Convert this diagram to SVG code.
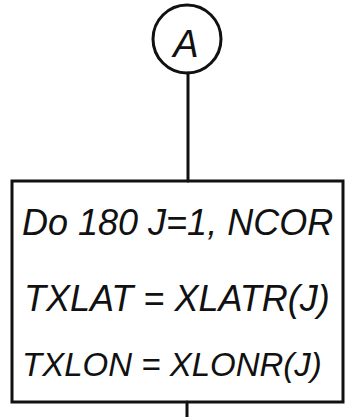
<svg xmlns="http://www.w3.org/2000/svg" width="348" height="417" viewBox="0 0 348 417">
<style>
.s{fill:none;stroke:#111;stroke-width:3;stroke-linecap:round}
.t{font-family:"Liberation Sans",Arial,sans-serif;font-style:italic;font-size:36px;fill:#111}
.a{font-size:38px}
.l3{font-size:33px}
</style>
<rect width="348" height="417" fill="#fff"/>
<g id="connectors">
<line class="s" x1="188" y1="73" x2="188" y2="181"/>
<line class="s" x1="187" y1="402" x2="187" y2="417"/>
</g>
<g id="connector-A">
<circle class="s" cx="187" cy="39" r="34"/>
<text class="t a" x="186" y="57" text-anchor="middle">A</text>
</g>
<g id="do-loop">
<rect class="s" x="12" y="181" width="331" height="221"/>
<text class="t" x="22" y="235">Do 180 J=1, NCOR</text>
<text class="t" x="24" y="311">TXLAT = XLATR(J)</text>
<text class="t l3" x="22" y="376">TXLON = XLONR(J)</text>
</g>
</svg>
